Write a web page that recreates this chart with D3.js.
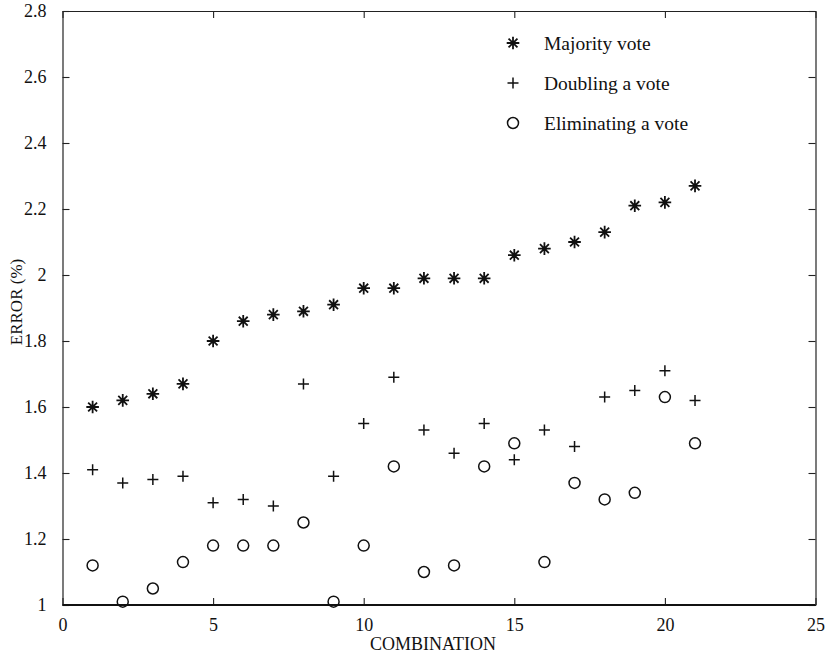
<!DOCTYPE html>
<html>
<head>
<meta charset="utf-8">
<script src="https://cdn.jsdelivr.net/npm/d3@7"></script>
<style>
  body { margin: 0; background: #fff; }
  text { font-family: "Liberation Serif", "Times New Roman", serif; fill: #111; }
</style>
</head>
<body>
<script>
// data
const combinations = d3.range(1, 22);
const majorityVote = [1.60, 1.62, 1.64, 1.67, 1.80, 1.86, 1.88, 1.89, 1.91, 1.96, 1.96,
                      1.99, 1.99, 1.99, 2.06, 2.08, 2.10, 2.13, 2.21, 2.22, 2.27];
const doublingVote = [1.41, 1.37, 1.38, 1.39, 1.31, 1.32, 1.30, 1.67, 1.39, 1.55, 1.69,
                      1.53, 1.46, 1.55, 1.44, 1.53, 1.48, 1.63, 1.65, 1.71, 1.62];
const eliminatingVote = [1.12, 1.01, 1.05, 1.13, 1.18, 1.18, 1.18, 1.25, 1.01, 1.18, 1.42,
                         1.10, 1.12, 1.42, 1.49, 1.13, 1.37, 1.32, 1.34, 1.63, 1.49];
const xTicks = [0, 5, 10, 15, 20, 25];
const yTicks = [1, 1.2, 1.4, 1.6, 1.8, 2, 2.2, 2.4, 2.6, 2.8];
const seriesNames = ["Majority vote", "Doubling a vote", "Eliminating a vote"];

const canvWidth = 831, canvHeight = 656;
const svg = d3.select("body").append("svg")
    .attr("width", canvWidth)
    .attr("height", canvHeight);

// plot box in pixels
const box = { left: 62.5, right: 815.5, top: 11, bottom: 605 };

const xScale = d3.scaleLinear().domain([0, 25]).range([box.left, box.right]);
const yScale = d3.scaleLinear().domain([1, 2.8]).range([box.bottom, box.top]);

// axes, MATLAB style: ticks pointing inward on all four sides
const fmt = d => String(+d.toFixed(1));
svg.append("g")
    .attr("transform", "translate(0," + box.bottom + ")")
    .call(d3.axisBottom(xScale).tickValues(xTicks).tickSizeInner(-7).tickSizeOuter(0).tickPadding(13).tickFormat(fmt));
svg.append("g")
    .attr("transform", "translate(0," + box.top + ")")
    .call(d3.axisTop(xScale).tickValues(xTicks).tickSizeInner(-7).tickSizeOuter(0).tickFormat(""));
svg.append("g")
    .attr("transform", "translate(" + box.left + ",0)")
    .call(d3.axisLeft(yScale).tickValues(yTicks).tickSizeInner(-7).tickSizeOuter(0).tickPadding(16).tickFormat(fmt));
svg.append("g")
    .attr("transform", "translate(" + box.right + ",0)")
    .call(d3.axisRight(yScale).tickValues(yTicks).tickSizeInner(-7).tickSizeOuter(0).tickFormat(""));

svg.selectAll(".domain").attr("stroke", "#222").attr("stroke-width", 1.2);
svg.selectAll(".tick line").attr("stroke", "#222").attr("stroke-width", 1.1);
svg.selectAll(".tick text")
    .attr("font-family", "Liberation Serif, Times New Roman, serif")
    .attr("font-size", "18px")
    .attr("fill", "#111");

// thicker bottom frame line like the scan
svg.append("line")
    .attr("x1", box.left).attr("x2", box.right)
    .attr("y1", box.bottom).attr("y2", box.bottom)
    .attr("stroke", "#111").attr("stroke-width", 2);

// axis titles
svg.append("text")
    .attr("x", (box.left + box.right) / 2 - 6)
    .attr("y", 650)
    .attr("font-size", "18px")
    .style("text-anchor", "middle")
    .text("COMBINATION");

svg.append("text")
    .attr("transform", "translate(22," + 302 + ") rotate(-90)")
    .attr("font-size", "17px")
    .style("text-anchor", "middle")
    .text("ERROR (%)");

// marker shapes
function starPath(s) {
    const d = s * Math.SQRT1_2;
    return "M" + (-s) + ",0L" + s + ",0M0," + (-s) + "L0," + s +
        "M" + (-d) + "," + (-d) + "L" + d + "," + d +
        "M" + (-d) + "," + d + "L" + d + "," + (-d);
}
function plusPath(s) {
    return "M" + (-s) + ",0L" + s + ",0M0," + (-s) + "L0," + s;
}

function drawMarker(sel, kind) {
    if (kind === 0) {
        sel.append("path").attr("d", starPath(6.3))
            .attr("stroke", "#111").attr("stroke-width", 1.8).attr("fill", "none");
    } else if (kind === 1) {
        sel.append("path").attr("d", plusPath(5.5))
            .attr("stroke", "#111").attr("stroke-width", 1.5).attr("fill", "none");
    } else {
        sel.append("circle").attr("r", 5.5)
            .attr("stroke", "#111").attr("stroke-width", 1.5).attr("fill", "none");
    }
}

const allSeries = [majorityVote, doublingVote, eliminatingVote];
allSeries.forEach((values, k) => {
    const pts = svg.append("g").selectAll("g")
        .data(combinations.map((c, i) => ({ x: c, y: values[i] })))
        .enter()
        .append("g")
        .attr("transform", d => "translate(" + xScale(d.x) + "," + yScale(d.y) + ")");
    drawMarker(pts, k);
});

// legend
const legend = svg.append("g").attr("transform", "translate(513,43)");
const entry = legend.selectAll("g")
    .data(seriesNames)
    .enter()
    .append("g")
    .attr("transform", (d, i) => "translate(0," + i * 40 + ")");
entry.each(function (d, i) { drawMarker(d3.select(this), i); });
entry.append("text")
    .attr("x", 31)
    .attr("dy", "0.35em")
    .attr("font-size", "19.5px")
    .text(d => d);
</script>
</body>
</html>
